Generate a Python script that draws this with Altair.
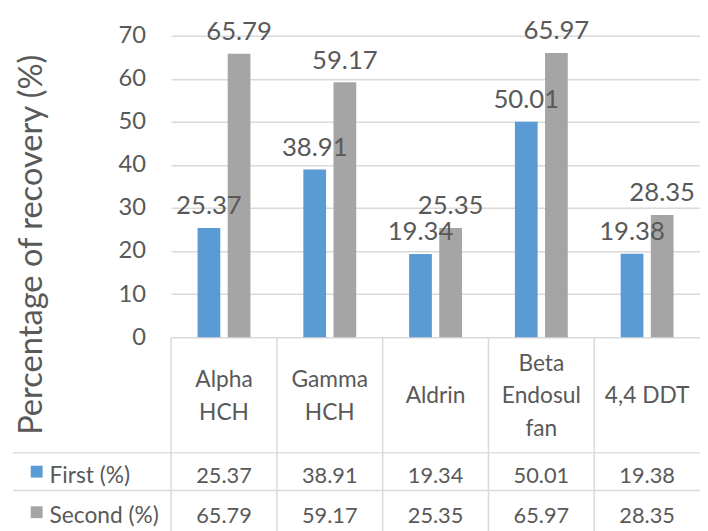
import altair as alt
import pandas as pd

# ---- data ----
categories = ["Alpha HCH", "Gamma HCH", "Aldrin", "Beta Endosulfan", "4,4 DDT"]
header_labels = ["Alpha\nHCH", "Gamma\nHCH", "Aldrin", "Beta\nEndosul\nfan", "4,4 DDT"]
series_names = ["First (%)", "Second (%)"]
first_values = [25.37, 38.91, 19.34, 50.01, 19.38]
second_values = [65.79, 59.17, 25.35, 65.97, 28.35]
y_ticks = [0, 10, 20, 30, 40, 50, 60, 70]

# ---- styles / layout ----
colors = ["#5B9BD5", "#A5A5A5"]
TEXT = "#595959"
GRID = "#d9d9d9"
FONT = "Lato"
W, H = 535, 305
TABLE_BOTTOM = H + 200
HEADER_CENTER = H + 60
LINE_H = 33
HEADER_LINE = H + 117
ROW1_LINE = H + 155
ROW_Y = {"First (%)": H + 140, "Second (%)": H + 181}

rows = []
for i, c in enumerate(categories):
    rows.append({"category": c, "series": series_names[0], "value": first_values[i]})
    rows.append({"category": c, "series": series_names[1], "value": second_values[i]})
df = pd.DataFrame(rows)
hdr = pd.DataFrame({"category": categories, "label": header_labels})
hdr["nlines"] = hdr["label"].str.count("\n") + 1
leg = pd.DataFrame({"series": series_names})
one = pd.DataFrame({"k": [0]})

xband = alt.Scale(paddingInner=0, paddingOuter=0)
x_enc = alt.X("category:N", sort=categories, scale=xband, axis=None)
xoff = alt.XOffset("series:N", sort=series_names,
                   scale=alt.Scale(paddingInner=0, paddingOuter=0.754))
color_enc = alt.Color("series:N", scale=alt.Scale(domain=series_names, range=colors), legend=None)

y_enc = alt.Y(
    "value:Q",
    scale=alt.Scale(domain=[0, 70], nice=False),
    axis=alt.Axis(
        values=y_ticks, title="Percentage of recovery (%)",
        domain=False, ticks=False, labelPadding=26, labelFontSize=24,
        labelColor=TEXT, labelFont=FONT, gridColor=GRID, gridWidth=1.5,
        titleFontSize=33, titleFontWeight="normal", titleColor=TEXT, titleFont=FONT,
        titleX=-141, titleY=211, titleAngle=270, titleAlign="center",
        titleBaseline="middle",
    ),
)

bars = alt.Chart(df).mark_bar(width=23).encode(
    x=x_enc, xOffset=xoff, y=y_enc, color=color_enc
)

labels = alt.Chart(df).mark_text(
    dy=-22, baseline="middle", fontSize=26, color=TEXT, font=FONT
).encode(
    x=x_enc, xOffset=xoff, y=alt.Y("value:Q"),
    text=alt.Text("value:Q", format=".2f"),
)

vlines = alt.Chart(hdr).mark_rule(color=GRID, strokeWidth=1.5).encode(
    x=alt.X("category:N", sort=categories, scale=xband, axis=None, bandPosition=0),
    y=alt.value(H), y2=alt.value(TABLE_BOTTOM),
)
hline1 = alt.Chart(one).mark_rule(color=GRID, strokeWidth=1.5).encode(
    x=alt.value(-160), x2=alt.value(W), y=alt.value(HEADER_LINE)
)
hline2 = alt.Chart(one).mark_rule(color=GRID, strokeWidth=1.5).encode(
    x=alt.value(-160), x2=alt.value(W), y=alt.value(ROW1_LINE)
)

layers = [vlines, hline1, hline2, bars, labels]

for n in sorted(hdr["nlines"].unique()):
    layers.append(
        alt.Chart(hdr).transform_filter(alt.datum.nlines == int(n)).mark_text(
            lineBreak="\n", lineHeight=LINE_H, fontSize=23, color=TEXT, font=FONT,
            baseline="middle"
        ).encode(x=x_enc, y=alt.value(HEADER_CENTER - (int(n) - 1) * LINE_H / 2),
                 text="label:N")
    )

for s in series_names:
    layers.append(
        alt.Chart(df).transform_filter(alt.datum.series == s).mark_text(
            fontSize=22, color=TEXT, font=FONT, baseline="middle"
        ).encode(x=x_enc, y=alt.value(ROW_Y[s]), text=alt.Text("value:Q", format=".2f"))
    )
    layers.append(
        alt.Chart(leg).transform_filter(alt.datum.series == s).mark_square(
            size=144, filled=True, opacity=1
        ).encode(x=alt.value(-136), y=alt.value(ROW_Y[s] - 4), color=color_enc)
    )
    layers.append(
        alt.Chart(leg).transform_filter(alt.datum.series == s).mark_text(
            fontSize=23, color=TEXT, font=FONT, baseline="middle", align="left"
        ).encode(x=alt.value(-123), y=alt.value(ROW_Y[s]), text="series:N")
    )

chart = alt.layer(*layers).properties(
    width=W, height=H,
    padding={"left": 165, "top": 25, "right": 0, "bottom": 193},
    autosize=alt.AutoSizeParams(type="none"),
    background="white",
).configure_view(stroke=None)

chart.save("out.html", embed_options={"renderer": "svg", "actions": False})
